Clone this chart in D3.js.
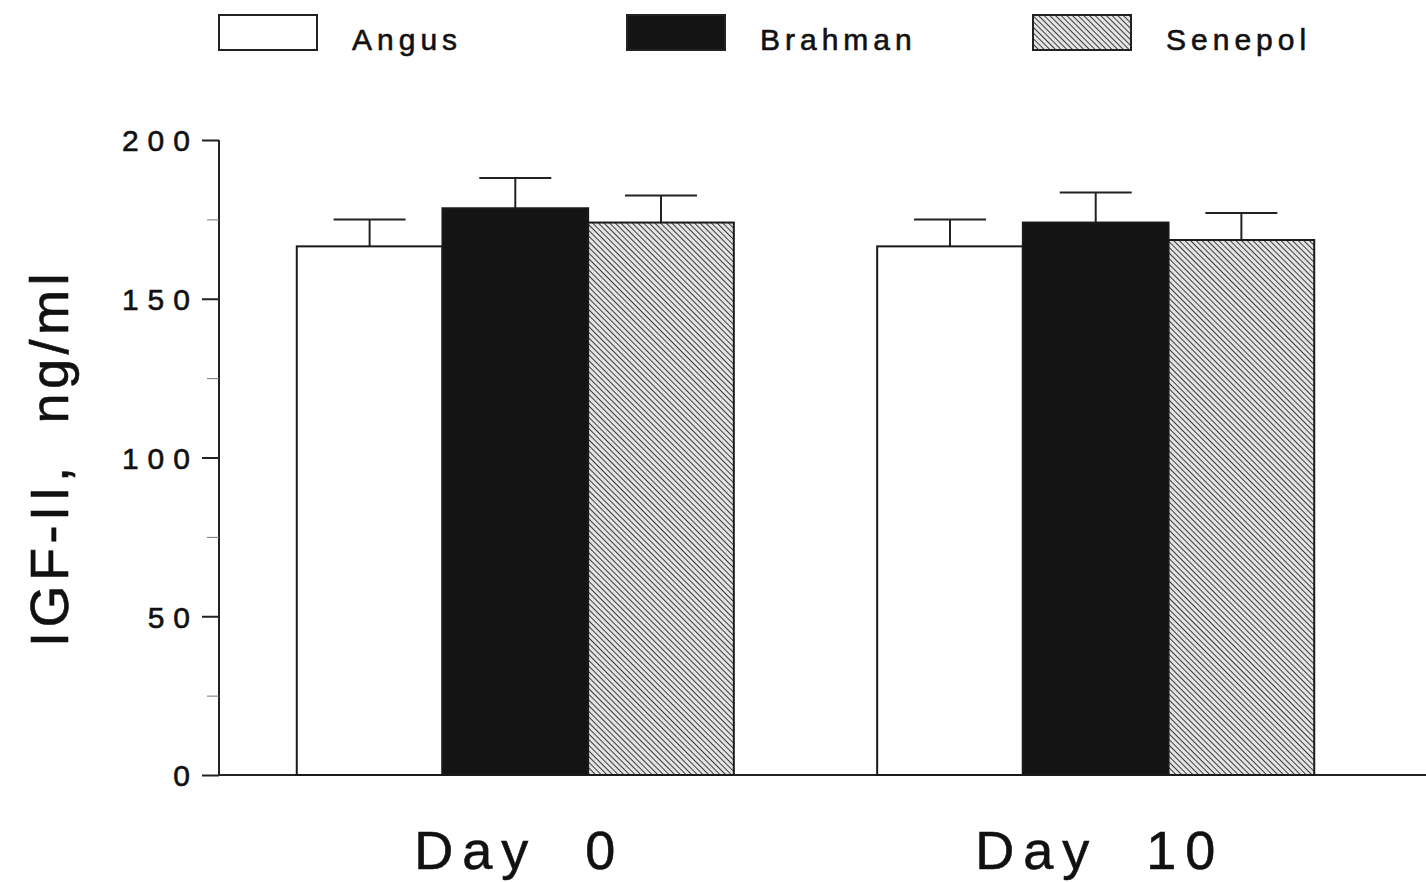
<!DOCTYPE html>
<html>
<head>
<meta charset="utf-8">
<script src="https://cdn.jsdelivr.net/npm/d3@7"></script>
<style>
  body { margin: 0; background: #fff; }
  text { font-family: "Liberation Sans", Arial, sans-serif; fill: #111; stroke: #111; stroke-width: 0.6px; }
</style>
</head>
<body>
<svg id="chart" width="1426" height="882"></svg>
<script>
// Days on the x axis and the three breeds inside each day
var days = ['Day  0', 'Day  10'],
    breeds = ['Angus', 'Brahman', 'Senepol'];

// Mean IGF-II (ng/ml) and the top of each error bar, per breed, per day
var angus = [166.5, 166.5],
    brahman = [178.5, 174],
    senepol = [174, 168.5];
var angusErr = [175, 175],
    brahmanErr = [188, 183.5],
    senepolErr = [182.5, 177];

var yTicks = [0, 50, 100, 150, 200],
    yMinor = [25, 75, 125, 175];

var means = {Angus: angus, Brahman: brahman, Senepol: senepol},
    errs = {Angus: angusErr, Brahman: brahmanErr, Senepol: senepolErr};

var svg = d3.select('#chart');

var defs = svg.append('defs');
var hatch = defs.append('pattern')
  .attr('id', 'hatch')
  .attr('patternUnits', 'userSpaceOnUse')
  .attr('width', 4)
  .attr('height', 4)
  .attr('patternTransform', 'rotate(45)');
hatch.append('rect').attr('width', 4).attr('height', 4).attr('fill', '#e4e4e4');
hatch.append('line')
  .attr('x1', 0).attr('y1', 0).attr('x2', 4).attr('y2', 0)
  .attr('stroke', '#3c3c3c').attr('stroke-width', 2);

var fills = {Angus: '#fff', Brahman: '#141414', Senepol: 'url(#hatch)'};

var plotLeft = 219, plotBottom = 775, plotTop = 140;

var y = d3.scaleLinear().domain([0, 200]).range([plotBottom, plotTop]);

var x0 = d3.scaleBand()
  .domain(days)
  .range([219, 1392])
  .paddingInner(0.247)
  .paddingOuter(0.134);

var x1 = d3.scaleBand()
  .domain(breeds)
  .range([0, x0.bandwidth()]);

// y axis: long ticks at labels, short ticks between
var yAxis = d3.axisLeft(y).tickValues(yTicks).tickSize(17).tickFormat(d3.format('d'));
var ga = svg.append('g').attr('transform', 'translate(' + plotLeft + ',0)').call(yAxis);
ga.select('.domain').attr('stroke', '#222').attr('stroke-width', 2)
  .attr('d', 'M0,' + plotTop + 'V' + plotBottom);
ga.selectAll('.tick line').attr('stroke', '#222').attr('stroke-width', 2);
ga.selectAll('.tick text')
  .style('font-size', '30px')
  .style('letter-spacing', '9px')
  .attr('x', -20)
  .attr('dy', '0.36em');

var gm = svg.append('g').attr('transform', 'translate(' + plotLeft + ',0)')
  .call(d3.axisLeft(y).tickValues(yMinor).tickSize(12).tickFormat(''));
gm.select('.domain').remove();
gm.selectAll('.tick line').attr('stroke', '#777').attr('stroke-width', 1);

// x baseline runs to the right edge
svg.append('line')
  .attr('x1', plotLeft).attr('x2', 1426)
  .attr('y1', plotBottom).attr('y2', plotBottom)
  .attr('stroke', '#222').attr('stroke-width', 2);

var groups = svg.selectAll('.day')
  .data(days)
  .enter().append('g')
    .attr('class', 'day')
    .attr('transform', function(d) { return 'translate(' + x0(d) + ',0)'; });

var cells = groups.selectAll('.bar')
  .data(function(d, i) {
    return breeds.map(function(b) { return {breed: b, v: means[b][i], e: errs[b][i]}; });
  })
  .enter().append('g').attr('class', 'bar');

function mid(d) { return x1(d.breed) + x1.bandwidth() / 2; }

cells.append('line')
  .attr('x1', mid)
  .attr('x2', mid)
  .attr('y1', function(d) { return y(d.v); })
  .attr('y2', function(d) { return y(d.e); })
  .attr('stroke', '#222').attr('stroke-width', 2);

cells.append('line')
  .attr('x1', function(d) { return mid(d) - 36; })
  .attr('x2', function(d) { return mid(d) + 36; })
  .attr('y1', function(d) { return y(d.e); })
  .attr('y2', function(d) { return y(d.e); })
  .attr('stroke', '#222').attr('stroke-width', 2);

cells.append('rect')
  .attr('x', function(d) { return x1(d.breed); })
  .attr('y', function(d) { return y(d.v); })
  .attr('width', x1.bandwidth())
  .attr('height', function(d) { return plotBottom - y(d.v); })
  .attr('fill', function(d) { return fills[d.breed]; })
  .attr('stroke', '#1a1a1a')
  .attr('stroke-width', 2);

// day labels
svg.selectAll('.daylabel')
  .data(days)
  .enter().append('text')
    .attr('class', 'daylabel')
    .attr('x', function(d) { return x0(d) + x0.bandwidth() / 2 + 4; })
    .attr('y', 869)
    .attr('text-anchor', 'middle')
    .style('font-size', '54px')
    .style('letter-spacing', '9px')
    .style('white-space', 'pre')
    .text(function(d) { return d; });

// y title
svg.append('text')
  .attr('transform', 'translate(68,458) rotate(-90)')
  .attr('text-anchor', 'middle')
  .style('font-size', '54px')
  .style('letter-spacing', '4.5px')
  .style('white-space', 'pre')
  .text('IGF-II,  ng/ml');

// legend
var legX = [219, 627, 1033];
var leg = svg.selectAll('.leg')
  .data(breeds)
  .enter().append('g')
    .attr('class', 'leg')
    .attr('transform', function(d, i) { return 'translate(' + legX[i] + ',15)'; });
leg.append('rect')
  .attr('width', 98).attr('height', 35)
  .attr('fill', function(d) { return fills[d]; })
  .attr('stroke', '#222').attr('stroke-width', 2);
leg.append('text')
  .attr('x', 133).attr('y', 35)
  .style('font-size', '30px')
  .style('letter-spacing', '5px')
  .text(function(d) { return d; });
</script>
</body>
</html>
